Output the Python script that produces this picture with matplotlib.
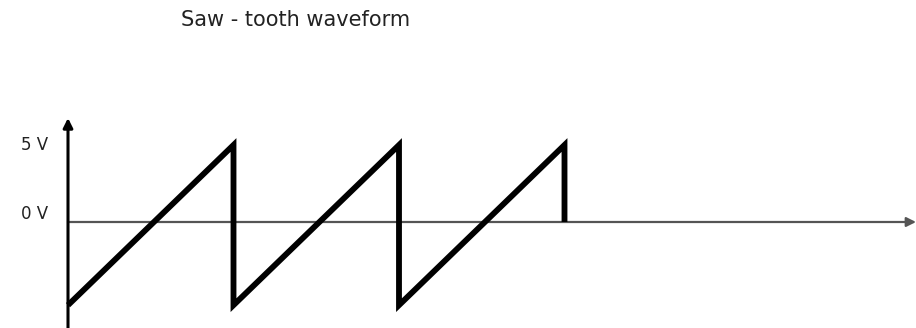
import matplotlib
matplotlib.use("Agg")
import matplotlib.pyplot as plt

# Data (time in periods, voltage in V)
wave_t = [0, 1, 1, 2, 2, 3, 3]
wave_v = [-5.4, 5, -5.4, 5, -5.4, 5, 0]
level_labels = ["5 V", "0 V"]
level_values = [5, 0]
title_text = "Saw - tooth waveform"

fig = plt.figure(figsize=(9.16, 3.28), dpi=100)
ax = fig.add_axes([0, 0, 1, 1])
px_per_t = 165.5
px_per_v = 15.4
x0, y0 = 68, 222
ax.set_xlim(-x0 / px_per_t, (916 - x0) / px_per_t)
ax.set_ylim(-(328 - y0) / px_per_v, y0 / px_per_v)
ax.axis("off")

xmax = (916 - x0) / px_per_t
ymin = -(328 - y0) / px_per_v
ytop = (y0 - 118) / px_per_v

# horizontal axis with arrow
ax.annotate("", xy=(xmax, 0), xytext=(0, 0),
            arrowprops=dict(arrowstyle="-|>", color="#555555", lw=1.6,
                            mutation_scale=14, shrinkA=0, shrinkB=0), zorder=1)
# vertical axis with arrow
ax.annotate("", xy=(0, ytop), xytext=(0, ymin),
            arrowprops=dict(arrowstyle="-|>", color="black", lw=2.2,
                            mutation_scale=14, shrinkA=0, shrinkB=0), zorder=2)

# waveform
ax.plot(wave_t, wave_v, color="black", lw=4.2, solid_joinstyle="miter",
        solid_capstyle="butt", zorder=3)

# level labels
for lab, v in zip(level_labels, level_values):
    dy = 0.55 if v == 0 else 0
    ax.text(-33 / px_per_t, v + dy, lab, fontsize=12, color="#222222",
            ha="center", va="center", family="DejaVu Sans")

fig.text(296 / 916, 1 - 20 / 328, title_text, fontsize=15, color="#222222",
         ha="center", va="center", family="DejaVu Sans")

fig.savefig("out.png", dpi=100)
